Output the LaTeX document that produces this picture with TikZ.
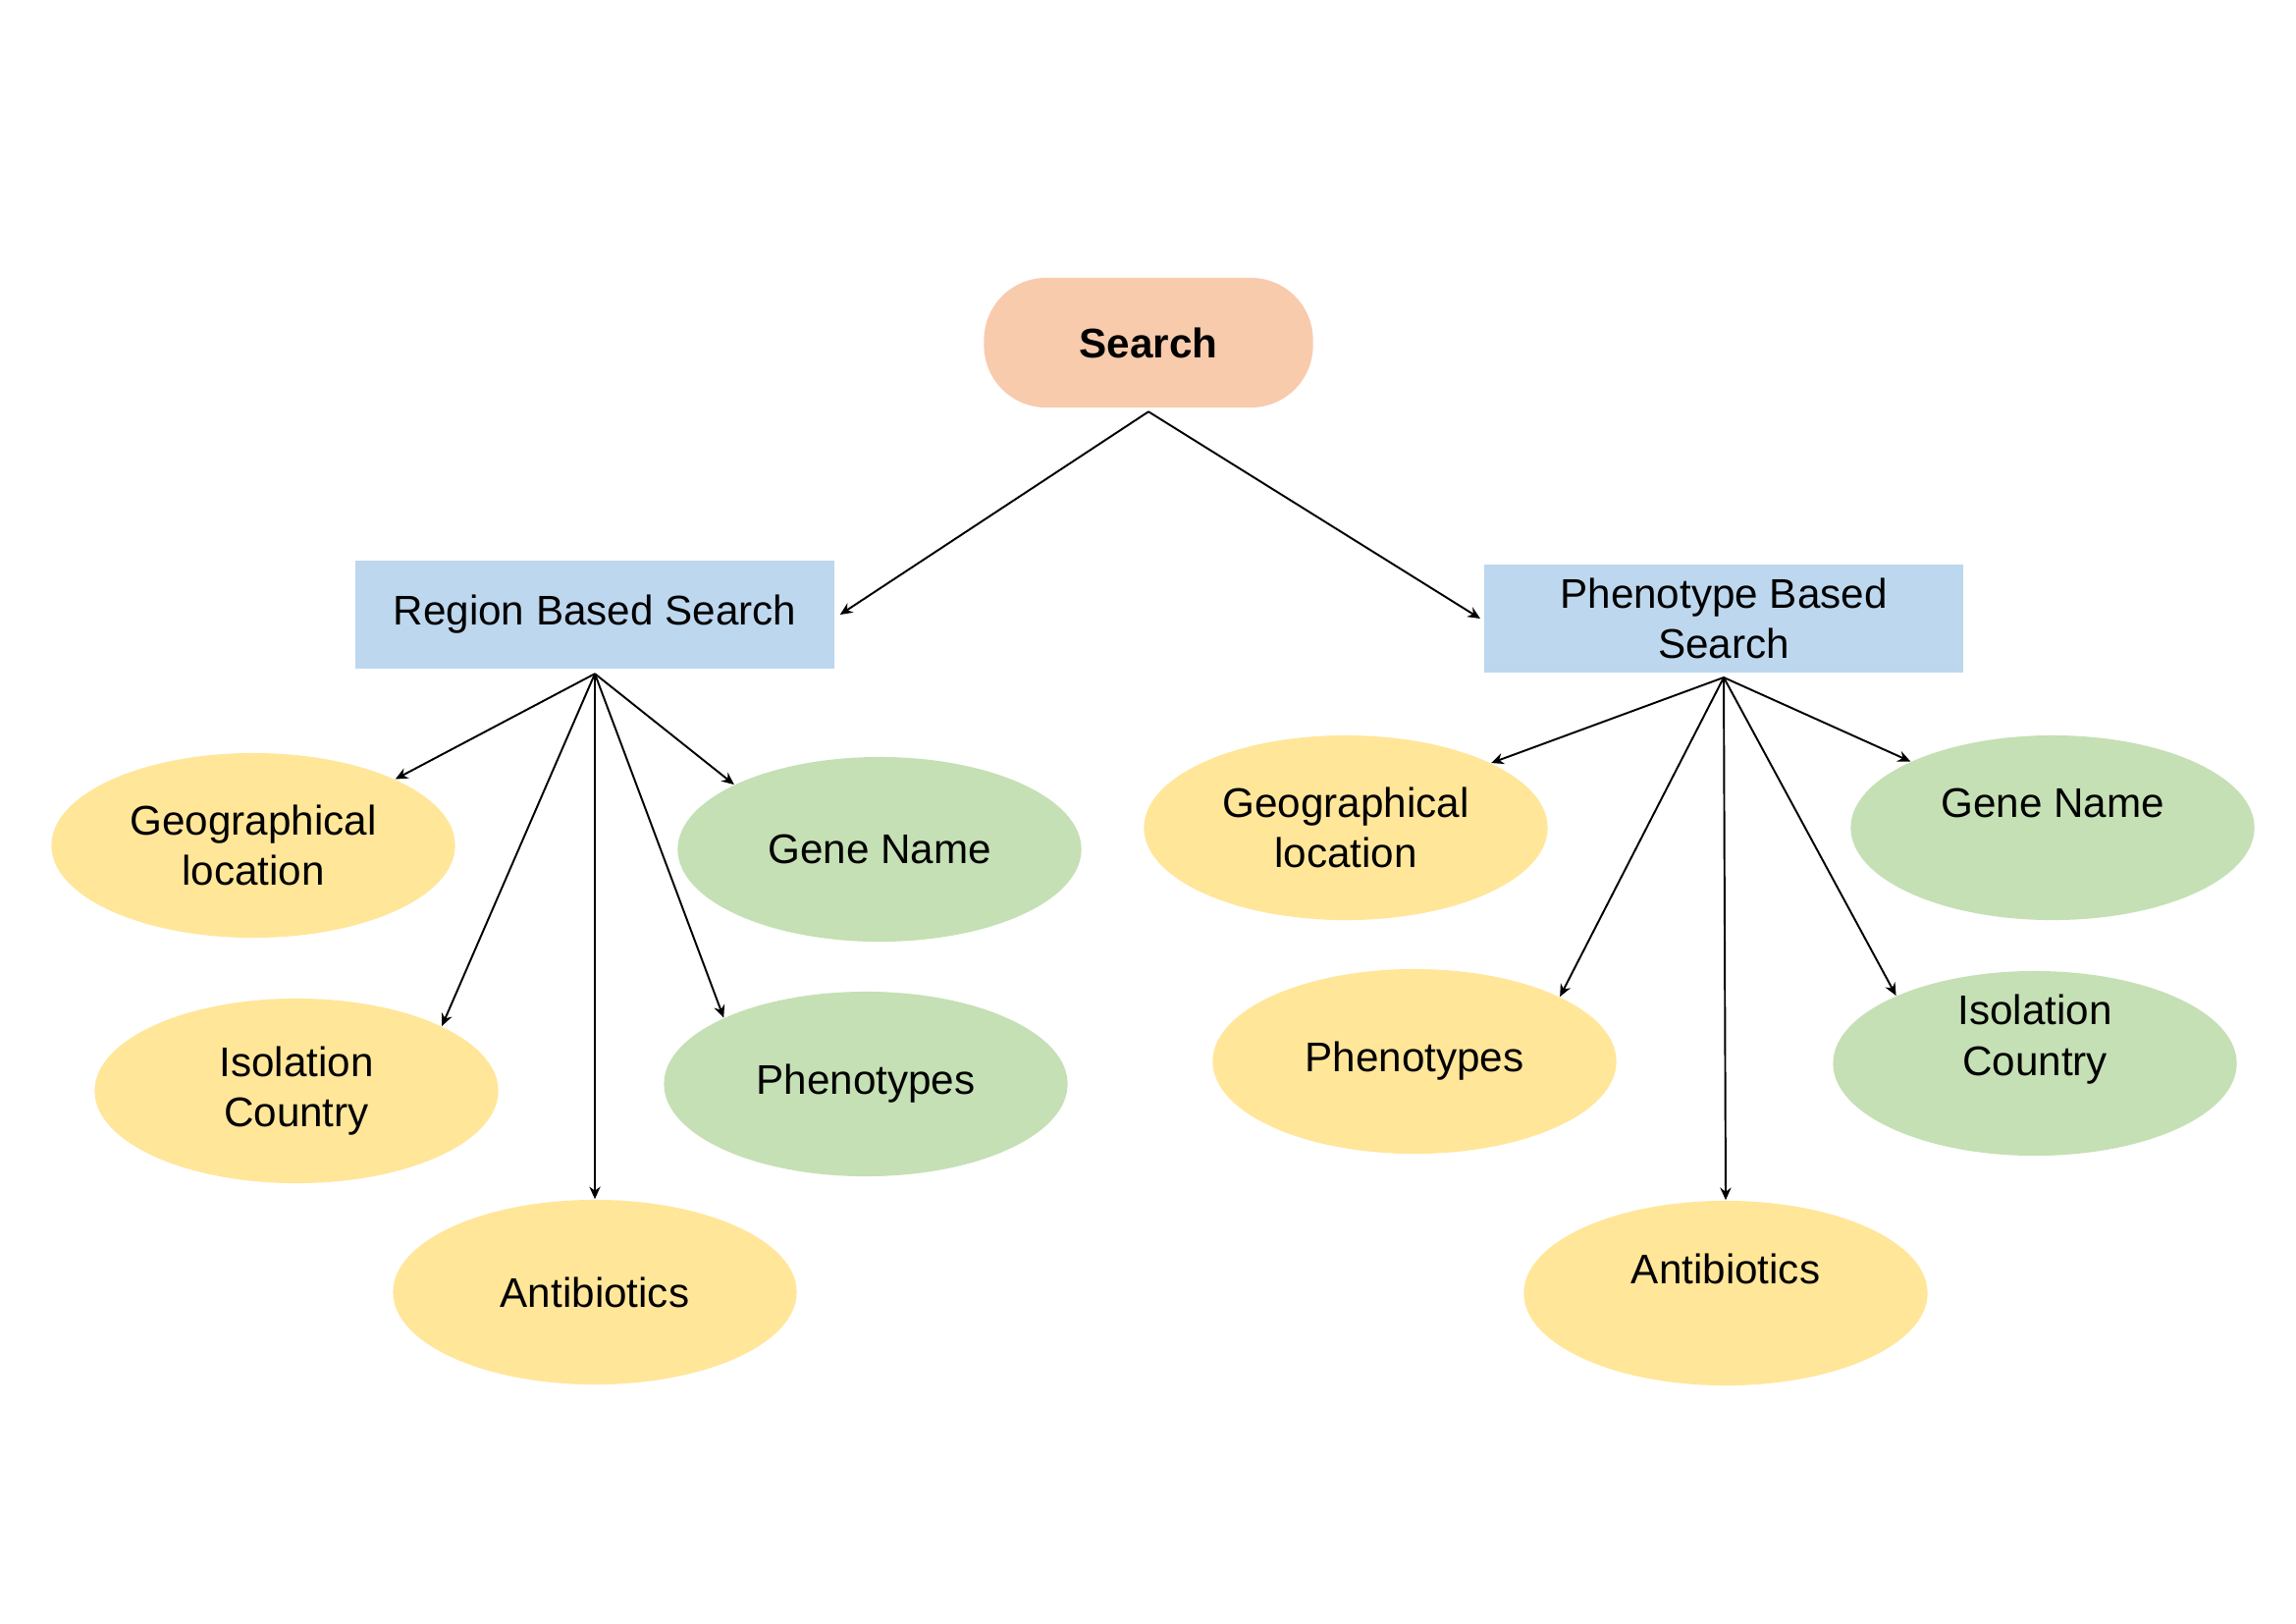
\documentclass[tikz,border=0pt]{standalone}
\usepackage{fontspec}
\setmainfont{Liberation Sans}
\usetikzlibrary{arrows.meta,shapes.geometric}
\definecolor{cSearch}{HTML}{F8CBAD}
\definecolor{cBlue}{HTML}{BDD7EE}
\definecolor{cYellow}{HTML}{FFE699}
\definecolor{cGreen}{HTML}{C5E0B4}
\tikzset{
  txt/.style={font=\fontsize{12}{14.7}\selectfont, align=center, text=black},
  searchbox/.style={txt, fill=cSearch, rounded corners=18pt, minimum width=3.35cm, minimum height=1.32cm, inner sep=0pt, font=\fontsize{12}{14.7}\selectfont\bfseries},
  catbox/.style={txt, fill=cBlue, minimum width=4.88cm, minimum height=1.09cm, inner sep=0pt},
  ell/.style={txt, ellipse, minimum width=4.11cm, minimum height=1.88cm, inner sep=0pt},
  yel/.style={ell, fill=cYellow},
  grn/.style={ell, fill=cGreen},
  arr/.style={-{Stealth[length=3.6pt,width=3.2pt]}, line width=0.55pt, black},
  up/.style={label={[txt, yshift=7pt]center:#1}}
}
\begin{document}
\begin{tikzpicture}[x=0.01cm, y=-0.01cm]
\useasboundingbox (0,0) rectangle (2339,1653);
\fill[white] (0,0) rectangle (2339,1653);

\node[searchbox] (search) at (1170,349) {Search};
\node[catbox] (rbs) at (606,626) {Region Based Search};
\node[catbox, minimum height=1.10cm] (pbs) at (1756,630) {Phenotype Based\\Search};

% left children
\node[yel] (geoL) at (258,861) {Geographical\\location};
\node[grn] (geneL) at (896,865) {Gene Name};
\node[yel] (isoL) at (302,1111) {Isolation\\Country};
\node[grn] (phenL) at (882,1104) {Phenotypes};
\node[yel] (antiL) at (606,1316) {Antibiotics};

% right children
\node[yel] (geoR) at (1371,843) {Geographical\\location};
\node[grn, up={Gene Name}] (geneR) at (2091,843) {};
\node[yel] (phenR) at (1441,1081) {Phenotypes};
\node[grn, up={Isolation\\Country}] (isoR) at (2073,1083) {};
\node[yel, up={Antibiotics}] (antiR) at (1758,1317) {};

\coordinate (sS) at ([yshift=-1pt]search.south);
\coordinate (rS) at ([yshift=-1.4pt]rbs.south);
\coordinate (pS) at ([yshift=-1.2pt]pbs.south);

\draw[arr] (sS) -- ([xshift=1.4pt]rbs.east);
\draw[arr] (sS) -- ([xshift=-0.9pt]pbs.west);

\draw[arr] (rS) -- (geoL.25);
\draw[arr] (rS) -- (isoL.24);
\draw[arr] (rS) -- (antiL.north);
\draw[arr] (rS) -- (phenL.155);
\draw[arr] (rS) -- (geneL.156);

\draw[arr] (pS) -- (geoR.24);
\draw[arr] (pS) -- (phenR.24.5);
\draw[arr] (pS) -- (antiR.north);
\draw[arr] (pS) -- (isoR.154);
\draw[arr] (pS) -- (geneR.155);
\end{tikzpicture}
\end{document}
